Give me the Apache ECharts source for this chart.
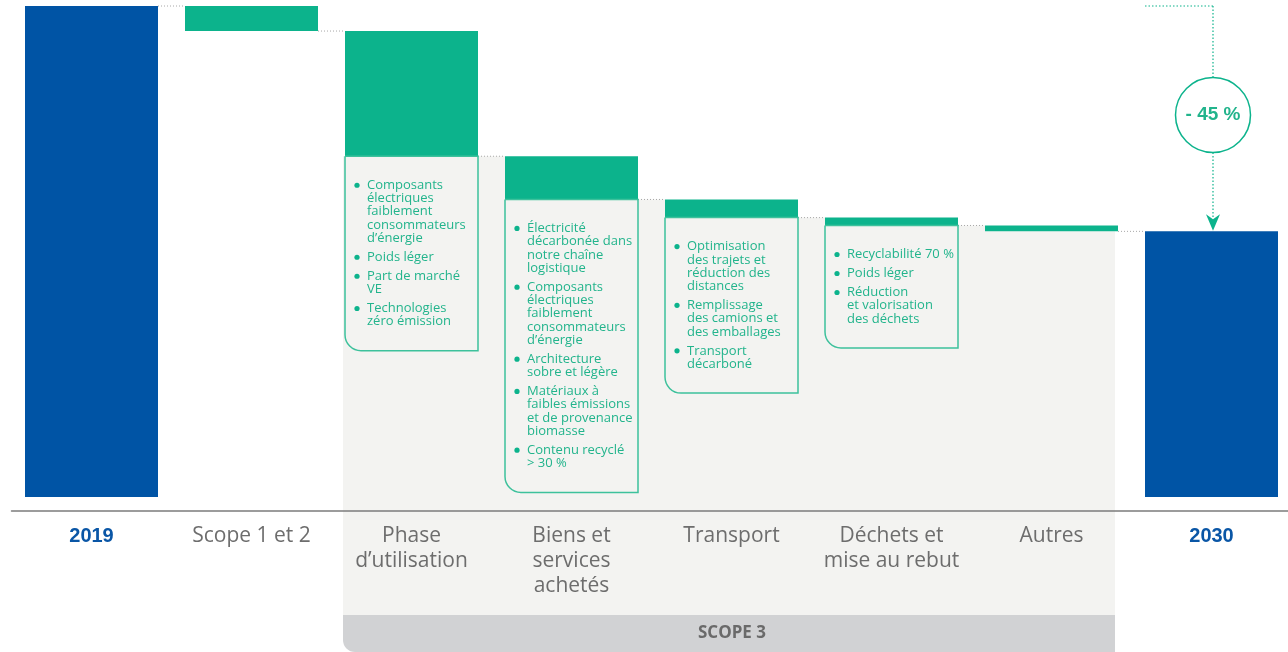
<!DOCTYPE html>
<html>
<head>
<meta charset="utf-8">
<script src="https://cdn.jsdelivr.net/npm/echarts@6/dist/echarts.min.js"></script>
<style>
html, body { margin: 0; padding: 0; background: #fff; }
#c { width: 1288px; height: 652px; }
</style>
</head>
<body>
<div id="c"></div>
<script>
// catégories et valeurs (2019 = 100)
var categories = ['2019', 'Scope 1 et 2', 'Phase\nd\u2019utilisation', 'Biens et\nservices\nachetés', 'Transport', 'Déchets et\nmise au rebut', 'Autres', '2030']
var values = [100, 5.1, 25.5, 8.8, 3.7, 1.6, 1.2, 54.1]
var totalIdx = [0, 7]
var scope3Idx = [2, 3, 4, 5, 6]

// leviers affichés sous chaque barre
var notes = [
	null,
	null,
	[['Composants', 'électriques', 'faiblement', 'consommateurs', 'd\u2019énergie'], ['Poids léger'], ['Part de marché', 'VE'], ['Technologies', 'zéro émission']],
	[['Électricité', 'décarbonée dans', 'notre chaîne', 'logistique'], ['Composants', 'électriques', 'faiblement', 'consommateurs', 'd\u2019énergie'], ['Architecture', 'sobre et légère'], ['Matériaux à', 'faibles émissions', 'et de provenance', 'biomasse'], ['Contenu recyclé', '> 30 %']],
	[['Optimisation', 'des trajets et', 'réduction des', 'distances'], ['Remplissage', 'des camions et', 'des emballages'], ['Transport', 'décarboné']],
	[['Recyclabilité 70 %'], ['Poids léger'], ['Réduction', 'et valorisation', 'des déchets']],
	null,
	null
]
var reductionLabel = '- 45 %'
var scopeLabel = 'SCOPE 3'

var blue = '#0054a5'
var green = '#0cb38c'
var textGreen = '#22b48c'
var grey = '#f3f3f1'
var barW = 133

// base invisible + niveau après chaque barre
var bases = [], levels = []
var run = values[0]
for (var i = 0; i < values.length; i++) {
	if (totalIdx.indexOf(i) >= 0) {
		bases.push(0)
		levels.push(values[i])
	} else {
		run -= values[i]
		bases.push(+run.toFixed(2))
		levels.push(+run.toFixed(2))
	}
}

var chart = echarts.init(document.getElementById('c'))

function renderBg(params, api) {
	var i = api.value(0)
	var p = api.coord([i, api.value(1)])
	var axisY = api.coord([0, -2.85])[1]
	var bottom = axisY + 104
	var x0 = p[0] - barW / 2 - 2
	var x1 = i < 6 ? api.coord([i + 1, 0])[0] - barW / 2 : p[0] + barW / 2 - 3
	var ch = [{
		type: 'rect',
		shape: { x: x0, y: p[1], width: x1 - x0, height: bottom - p[1] },
		style: { fill: grey }
	}]
	if (i === scope3Idx[0]) {
		var xe = api.coord([scope3Idx[scope3Idx.length - 1], 0])[0] + barW / 2 - 3
		ch.push({
			type: 'rect',
			shape: { x: x0, y: bottom, width: xe - x0, height: 37, r: [0, 0, 0, 12] },
			style: { fill: '#d1d2d4' }
		})
		ch.push({
			type: 'text',
			style: {
				x: (x0 + xe) / 2 + 3, y: bottom + 18, text: scopeLabel,
				fill: '#6a6a6a', font: 'bold 17px "Open Sans"',
				textAlign: 'center', textVerticalAlign: 'middle'
			}
		})
	}
	return { type: 'group', children: ch }
}

function renderNotes(params, api) {
	var i = api.value(0)
	var p = api.coord([i, api.value(1)])
	var ch = []
	var left = p[0] - barW / 2
	if (i < categories.length - 1) {
		var nx = api.coord([i + 1, 0])[0] - barW / 2
		ch.push({
			type: 'line',
			shape: { x1: p[0] + barW / 2, y1: p[1], x2: nx, y2: p[1] },
			style: { stroke: '#a8a8a8', lineWidth: 1, lineDash: [1, 2] }
		})
	}
	var items = notes[i]
	if (items) {
		var texts = []
		var cy = p[1] + 29
		items.forEach(function(lines) {
			texts.push({ type: 'circle', shape: { cx: left + 12, cy: cy, r: 2.6 }, style: { fill: green } })
			lines.forEach(function(l) {
				texts.push({
					type: 'text',
					style: {
						x: left + 22, y: cy, text: l, fill: textGreen,
						font: '13px "Open Sans"', textAlign: 'left', textVerticalAlign: 'middle'
					}
				})
				cy += 13.25
			})
			cy += 5.75
		})
		ch.push({
			type: 'rect',
			shape: { x: left, y: p[1], width: barW, height: cy + 10 - p[1], r: [0, 0, 0, 16] },
			style: { fill: grey, stroke: '#3dc19c', lineWidth: 1.5 }
		})
		ch = ch.concat(texts)
	}
	if (i === totalIdx[1]) {
		var top = api.coord([i, values[0]])[1]
		var cx = p[0] + 1.5
		var r = 37.5
		var ccy = top + 109
		var dash = { stroke: green, lineWidth: 1.2, lineDash: [1.5, 2] }
		ch.push({ type: 'line', shape: { x1: left, y1: top, x2: cx, y2: top }, style: dash })
		ch.push({ type: 'line', shape: { x1: cx, y1: top, x2: cx, y2: ccy - r }, style: dash })
		ch.push({ type: 'line', shape: { x1: cx, y1: ccy + r, x2: cx, y2: p[1] - 14 }, style: dash })
		ch.push({
			type: 'circle', shape: { cx: cx, cy: ccy, r: r },
			style: { fill: '#fff', stroke: green, lineWidth: 1.5 }
		})
		ch.push({
			type: 'text',
			style: {
				x: cx, y: ccy, text: reductionLabel, fill: textGreen,
				font: 'bold 19px "Liberation Sans"', textAlign: 'center', textVerticalAlign: 'middle'
			}
		})
		ch.push({
			type: 'polygon',
			shape: { points: [[cx - 7, p[1] - 17], [cx, p[1] - 12], [cx + 7, p[1] - 17], [cx, p[1] - 0.5]] },
			style: { fill: green }
		})
	}
	return { type: 'group', children: ch }
}

var option = {
	animation: false,
	grid: { left: 11.5, right: -3.5, top: 6, bottom: 141, outerBoundsMode: 'none' },
	xAxis: {
		type: 'category',
		data: categories,
		z: 5,
		axisTick: { show: false },
		axisLine: { onZero: false, lineStyle: { color: '#7c7c7c', width: 1.5 } },
		axisLabel: {
			interval: 0,
			margin: 12.5,
			formatter: function(v, idx) {
				var k = totalIdx.indexOf(idx) >= 0 ? 'y' : 'c'
				return v.split('\n').map(function(l) { return '{' + k + '|' + l + '}' }).join('\n')
			},
			rich: {
				c: { fontFamily: 'Open Sans', fontSize: 21, lineHeight: 25, color: '#6d6d6d' },
				y: { fontFamily: 'Liberation Sans', fontWeight: 'bold', fontSize: 20, lineHeight: 25, color: '#0a56a6' }
			}
		}
	},
	yAxis: { type: 'value', min: -2.85, max: 100, show: false },
	series: [{
		type: 'custom',
		z: 1,
		silent: true,
		renderItem: renderBg,
		data: scope3Idx.map(function(i) { return [i, levels[i]] })
	}, {
		type: 'bar',
		stack: 'w',
		z: 2,
		barWidth: barW,
		silent: true,
		itemStyle: { color: 'transparent' },
		data: bases
	}, {
		type: 'bar',
		stack: 'w',
		z: 2,
		barWidth: barW,
		silent: true,
		data: values.map(function(v, i) {
			return { value: v, itemStyle: { color: totalIdx.indexOf(i) >= 0 ? blue : green } }
		})
	}, {
		type: 'custom',
		z: 3,
		silent: true,
		renderItem: renderNotes,
		data: levels.map(function(l, i) { return [i, l] })
	}]
}

chart.setOption(option)
</script>
</body>
</html>
